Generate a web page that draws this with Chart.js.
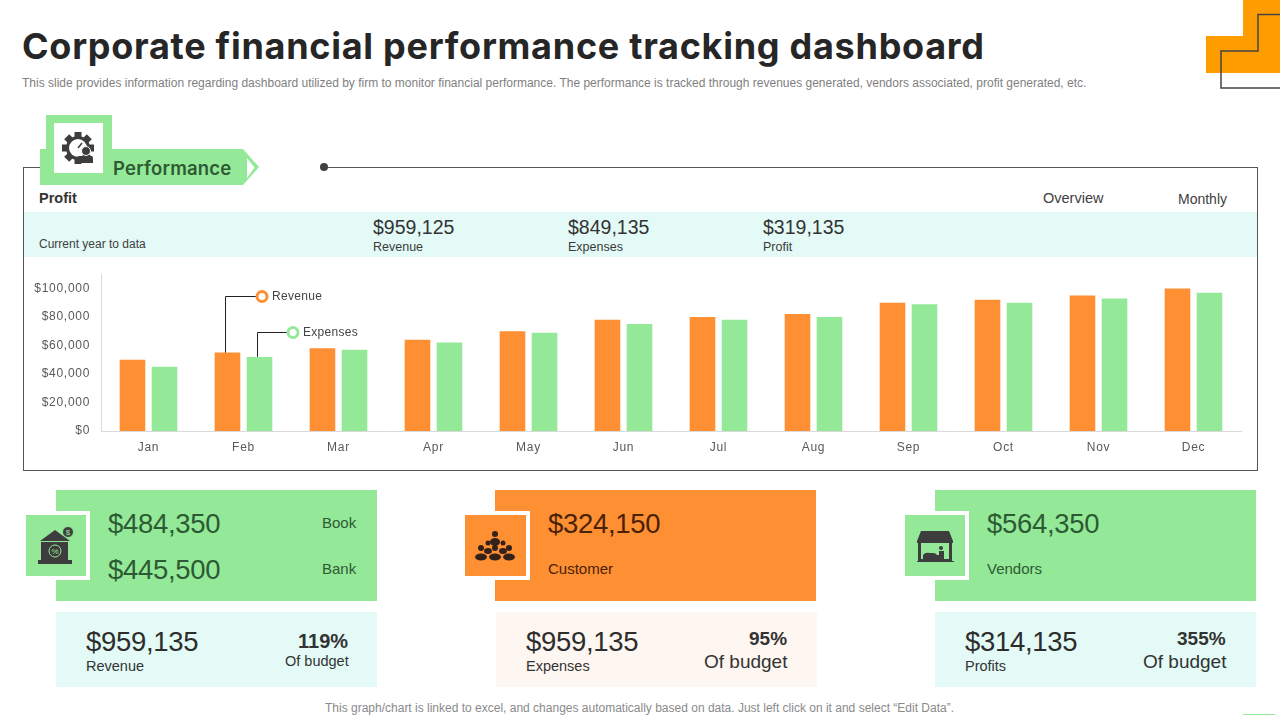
<!DOCTYPE html>
<html>
<head>
<meta charset="utf-8">
<title>Corporate financial performance tracking dashboard</title>
<script src="https://cdn.jsdelivr.net/npm/chart.js@4"></script>
<style>
  html, body { margin: 0; padding: 0; background: #fff; }
  #page { position: relative; width: 1280px; height: 720px; overflow: hidden; font-family: 'Liberation Sans', Arial, sans-serif; color: #333; }
  #page > * { position: absolute; }
  .t { white-space: nowrap; line-height: 1; }
  .green { background: #93E998; }
  .orange { background: #FF8F33; }
  .mint { background: #E3FAF6; }
  .cream { background: #FDF6F1; }
  .on-green { color: #2E5A33; }
  .on-orange { color: #4A2207; }
  .big { font-size: 27.5px; letter-spacing: -0.3px; }
  .mid { font-size: 15px; }
  .lab { font-size: 14.5px; color: #333; }
  .strip-num { font-size: 19.5px; color: #333; }
  .strip-lab { font-size: 12.5px; color: #3a3a3a; }
</style>
</head>
<body>
<div id="page">

  <!-- header -->
  <div class="t" style="left:22px;top:24px;font:700 36px Inter,sans-serif;color:#262626;letter-spacing:0.73px">Corporate financial performance tracking dashboard</div>
  <div class="t" style="left:22px;top:77px;font-size:12px;color:#7f7f7f">This slide provides information regarding dashboard utilized by firm to monitor financial performance. The performance is tracked through revenues generated, vendors associated, profit generated, etc.</div>

  <svg style="left:1200px;top:0" width="80" height="95" viewBox="1200 0 80 95">
    <path d="M1243 0H1280V73H1206V36H1243Z" fill="#FF9C00"/>
    <path d="M1280 14.500H1258V51H1221V88H1280" fill="none" stroke="#444" stroke-width="1.5"/>
  </svg>

  <!-- frame -->
  <div style="left:23px;top:167px;width:1233px;height:302px;border:1px solid #555"></div>
  <div style="left:250px;top:160px;width:74px;height:14px;background:#fff"></div>
  <div style="left:320px;top:163px;width:8px;height:8px;border-radius:50%;background:#404040"></div>

  <svg style="left:40px;top:115px" width="222" height="72" viewBox="40 115 222 72">
    <path d="M46 115H112V149H243L259 167L243 185H40V149H46Z" fill="#93E998"/>
    <path d="M247 158L254.500 167.500L247 178Z" fill="#fff"/>
    <rect x="54" y="123" width="49" height="50" fill="#fff"/>
    <!-- gear, clock and person -->
    <g fill="#3d3d3d">
      <circle cx="78" cy="148" r="12"/>
      <rect x="74.500" y="132" width="7" height="32"/>
      <rect x="62" y="144.500" width="32" height="7"/>
      <rect x="74.500" y="132" width="7" height="32" transform="rotate(45 78 148)"/>
      <rect x="74.500" y="132" width="7" height="32" transform="rotate(-45 78 148)"/>
    </g>
    <circle cx="78" cy="148" r="9" fill="#fff"/>
    <path d="M78 148L82 143" stroke="#3d3d3d" stroke-width="1.5"/>
    <circle cx="86" cy="151" r="4.500" fill="#3d3d3d" stroke="#fff" stroke-width="1"/>
    <path d="M76 163V159Q76 156 80 156H92Q93 156 93 159V163Z" fill="#3d3d3d"/>
  </svg>
  <div class="t" style="left:113px;top:157px;font:600 18.500px Inter,sans-serif;color:#2E5A33;letter-spacing:0.2px">Performance</div>

  <!-- profit strip -->
  <div class="t" style="left:39px;top:191px;font-size:14.5px;font-weight:700;color:#333">Profit</div>
  <div class="t" style="left:1043px;top:191px;font-size:14.5px;color:#404040">Overview</div>
  <div class="t" style="left:1178px;top:192px;font-size:14px;color:#404040">Monthly</div>
  <div class="mint" style="left:24px;top:212px;width:1233px;height:45px"></div>
  <div class="t" style="left:39px;top:238px;font-size:12px;color:#404040">Current year to data</div>
  <div class="t strip-num" style="left:373px;top:218px">$959,125</div>
  <div class="t strip-lab" style="left:373px;top:241px">Revenue</div>
  <div class="t strip-num" style="left:568px;top:218px">$849,135</div>
  <div class="t strip-lab" style="left:568px;top:241px">Expenses</div>
  <div class="t strip-num" style="left:763px;top:218px">$319,135</div>
  <div class="t strip-lab" style="left:763px;top:241px">Profit</div>

  <!-- chart -->
  <div style="left:24px;top:256px;width:1232px;height:212px"><canvas id="chart-profit"></canvas></div>

  <!-- card 1 -->
  <div class="green" style="left:56px;top:490px;width:321px;height:111px"></div>
  <div style="left:26px;top:511px;width:64px;height:69px;background:#fff"></div>
  <div class="green" style="left:26px;top:515px;width:60px;height:61px"></div>
  <svg style="left:26px;top:515px" width="60" height="61" viewBox="0 0 60 61">
    <g fill="#3d3d3d">
      <path d="M14 26L29 15L44 26Z"/>
      <rect x="15" y="27" width="27" height="18"/>
      <rect x="12" y="45" width="34" height="4"/>
    </g>
    <circle cx="42" cy="17" r="5.500" fill="#3d3d3d" stroke="#93E998" stroke-width="1"/>
    <text x="42" y="20" text-anchor="middle" font-size="8" font-family="Liberation Sans" fill="#93E998">$</text>
    <circle cx="29" cy="36" r="6" fill="none" stroke="#93E998" stroke-width="1"/>
    <text x="29" y="39" text-anchor="middle" font-size="8" font-family="Liberation Sans" fill="#93E998">%</text>
  </svg>
  <div class="t big on-green" style="left:108px;top:510px">$484,350</div>
  <div class="t big on-green" style="left:108px;top:556px">$445,500</div>
  <div class="t mid on-green" style="left:322px;top:515px">Book</div>
  <div class="t mid on-green" style="left:322px;top:561px">Bank</div>
  <div class="mint" style="left:56px;top:612px;width:321px;height:75px"></div>
  <div class="t big" style="left:86px;top:628px;color:#2d2d2d">$959,135</div>
  <div class="t lab" style="left:86px;top:659px">Revenue</div>
  <div class="t" style="left:298px;top:631px;font-size:20px;font-weight:700;color:#333">119%</div>
  <div class="t lab" style="left:285px;top:654px">Of budget</div>

  <!-- card 2 -->
  <div class="orange" style="left:495px;top:490px;width:321px;height:111px"></div>
  <div style="left:465px;top:511px;width:65px;height:69px;background:#fff"></div>
  <div class="orange" style="left:465px;top:515px;width:61px;height:61px"></div>
  <svg style="left:465px;top:515px" width="61" height="61" viewBox="0 0 61 61">
    <g fill="#33211a">
      <circle cx="30" cy="19" r="3"/>
      <ellipse cx="30" cy="27" rx="5" ry="4"/>
      <circle cx="23" cy="28" r="2.500"/><circle cx="38" cy="28" r="2.500"/>
      <circle cx="16" cy="33" r="3"/><circle cx="44" cy="33" r="3"/><circle cx="30" cy="33" r="3"/>
      <ellipse cx="23" cy="36" rx="4" ry="3"/><ellipse cx="38" cy="36" rx="4" ry="3"/>
      <ellipse cx="16" cy="42" rx="6" ry="3.500"/><ellipse cx="30" cy="42" rx="6" ry="3.500"/><ellipse cx="44" cy="42" rx="6" ry="3.500"/>
    </g>
  </svg>
  <div class="t big on-orange" style="left:548px;top:510px">$324,150</div>
  <div class="t mid on-orange" style="left:548px;top:561px">Customer</div>
  <div class="cream" style="left:496px;top:612px;width:321px;height:75px"></div>
  <div class="t big" style="left:526px;top:628px;color:#2d2d2d">$959,135</div>
  <div class="t lab" style="left:526px;top:659px">Expenses</div>
  <div class="t" style="left:749px;top:629px;font-size:19px;font-weight:700;color:#333">95%</div>
  <div class="t" style="left:704px;top:652px;font-size:19px;color:#333">Of budget</div>

  <!-- card 3 -->
  <div class="green" style="left:935px;top:490px;width:321px;height:111px"></div>
  <div style="left:905px;top:511px;width:64px;height:69px;background:#fff"></div>
  <div class="green" style="left:905px;top:515px;width:60px;height:61px"></div>
  <svg style="left:905px;top:515px" width="60" height="61" viewBox="0 0 60 61">
    <g fill="#3d3d3d">
      <path d="M16 16H44L48 26H12Z"/>
      <path d="M12 26H48V28H12Z"/>
      <path d="M13 28H16V44H44V28H47V46H49V47H12V46H13Z"/>
      <path d="M18 44V40Q20 37 25 38H28Q31 38 32 40H34V36H39V44Z"/>
      <circle cx="36" cy="33" r="2"/>
    </g>
  </svg>
  <div class="t big on-green" style="left:987px;top:510px">$564,350</div>
  <div class="t mid on-green" style="left:987px;top:561px">Vendors</div>
  <div class="mint" style="left:935px;top:612px;width:321px;height:75px"></div>
  <div class="t big" style="left:965px;top:628px;color:#2d2d2d">$314,135</div>
  <div class="t lab" style="left:965px;top:659px">Profits</div>
  <div class="t" style="left:1177px;top:629px;font-size:19px;font-weight:700;color:#333">355%</div>
  <div class="t" style="left:1143px;top:652px;font-size:19px;color:#333">Of budget</div>

  <!-- footer -->
  <div class="t" style="left:325px;top:702px;font-size:12px;color:#8a8a8a">This graph/chart is linked to excel, and changes automatically based on data. Just left click on it and select “Edit Data”.</div>
  <div style="left:1243px;top:714px;width:32px;height:1px;background:#93E998"></div>
</div>

<script>
const MONTHS   = ['Jan', 'Feb', 'Mar', 'Apr', 'May', 'Jun', 'Jul', 'Aug', 'Sep', 'Oct', 'Nov', 'Dec'];
const REVENUE  = [50000, 55000, 58000, 64000, 70000, 78000, 80000, 82000, 90000, 92000, 95000, 100000];
const EXPENSES = [45000, 52000, 57000, 62000, 69000, 75000, 78000, 80000, 89000, 90000, 93000, 97000];
const Y_TICKS  = [0, 20000, 40000, 60000, 80000, 100000];

const ORANGE = '#FF8F33';
const GREEN  = '#93E998';

// Callouts for the Feb bars, anchored to the bars the library drew
const febCallouts = {
  id: 'febCallouts',
  beforeDraw(chart) {
    chart.ctx.letterSpacing = '0.7px';
  },
  afterDatasetsDraw(chart) {
    const ctx = chart.ctx;
    const drawOne = (dsIndex, dx, labelY, endX, color, label) => {
      const bar = chart.getDatasetMeta(dsIndex).data[1];
      const x = bar.x + dx;
      ctx.save();
      ctx.strokeStyle = '#222';
      ctx.lineWidth = 1;
      ctx.beginPath();
      ctx.moveTo(Math.round(x) + 0.5, bar.y);
      ctx.lineTo(Math.round(x) + 0.5, labelY + 0.5);
      ctx.lineTo(endX, labelY + 0.5);
      ctx.stroke();
      ctx.beginPath();
      ctx.arc(endX + 5, labelY + 0.5, 5, 0, Math.PI * 2);
      ctx.fillStyle = '#fff';
      ctx.fill();
      ctx.lineWidth = 3;
      ctx.strokeStyle = color;
      ctx.stroke();
      ctx.fillStyle = '#444';
      ctx.font = "12px 'Liberation Sans', Arial, sans-serif";
      ctx.letterSpacing = '0.3px';
      ctx.textAlign = 'left';
      ctx.textBaseline = 'middle';
      ctx.fillText(label, endX + 15, labelY + 1);
      ctx.restore();
    };
    drawOne(0, -2, 40, 233, ORANGE, 'Revenue');
    drawOne(1, -3, 76, 264, GREEN, 'Expenses');
  },
};

new Chart(document.getElementById('chart-profit'), {
  type: 'bar',
  data: {
    labels: MONTHS,
    datasets: [
      { label: 'Revenue', data: REVENUE, backgroundColor: ORANGE },
      { label: 'Expenses', data: EXPENSES, backgroundColor: GREEN },
    ],
  },
  options: {
    responsive: true,
    maintainAspectRatio: false,
    animation: false,
    layout: { padding: { top: 4, right: 15, left: 0, bottom: 0 } },
    barPercentage: 0.8,
    categoryPercentage: 0.674,
    plugins: { legend: { display: false }, tooltip: { enabled: false } },
    scales: {
      x: {
        grid: { display: false, drawTicks: false },
        border: { color: '#d9d9d9' },
        ticks: { color: '#595959', font: { family: "'Liberation Sans', Arial, sans-serif", size: 12 }, padding: 9, maxRotation: 0 },
        afterFit: scale => { scale.height = 37; },
      },
      y: {
        min: 0,
        max: 110000,
        grid: { display: false, drawTicks: false },
        border: { color: '#d9d9d9' },
        afterBuildTicks: scale => { scale.ticks = Y_TICKS.map(value => ({ value })); },
        ticks: {
          color: '#595959',
          font: { family: "'Liberation Sans', Arial, sans-serif", size: 12 },
          padding: 11,
          callback: v => '$' + v.toLocaleString('en-US'),
        },
        afterFit: scale => { scale.width = 77; },
      },
    },
  },
  plugins: [febCallouts],
});
</script>
</body>
</html>
